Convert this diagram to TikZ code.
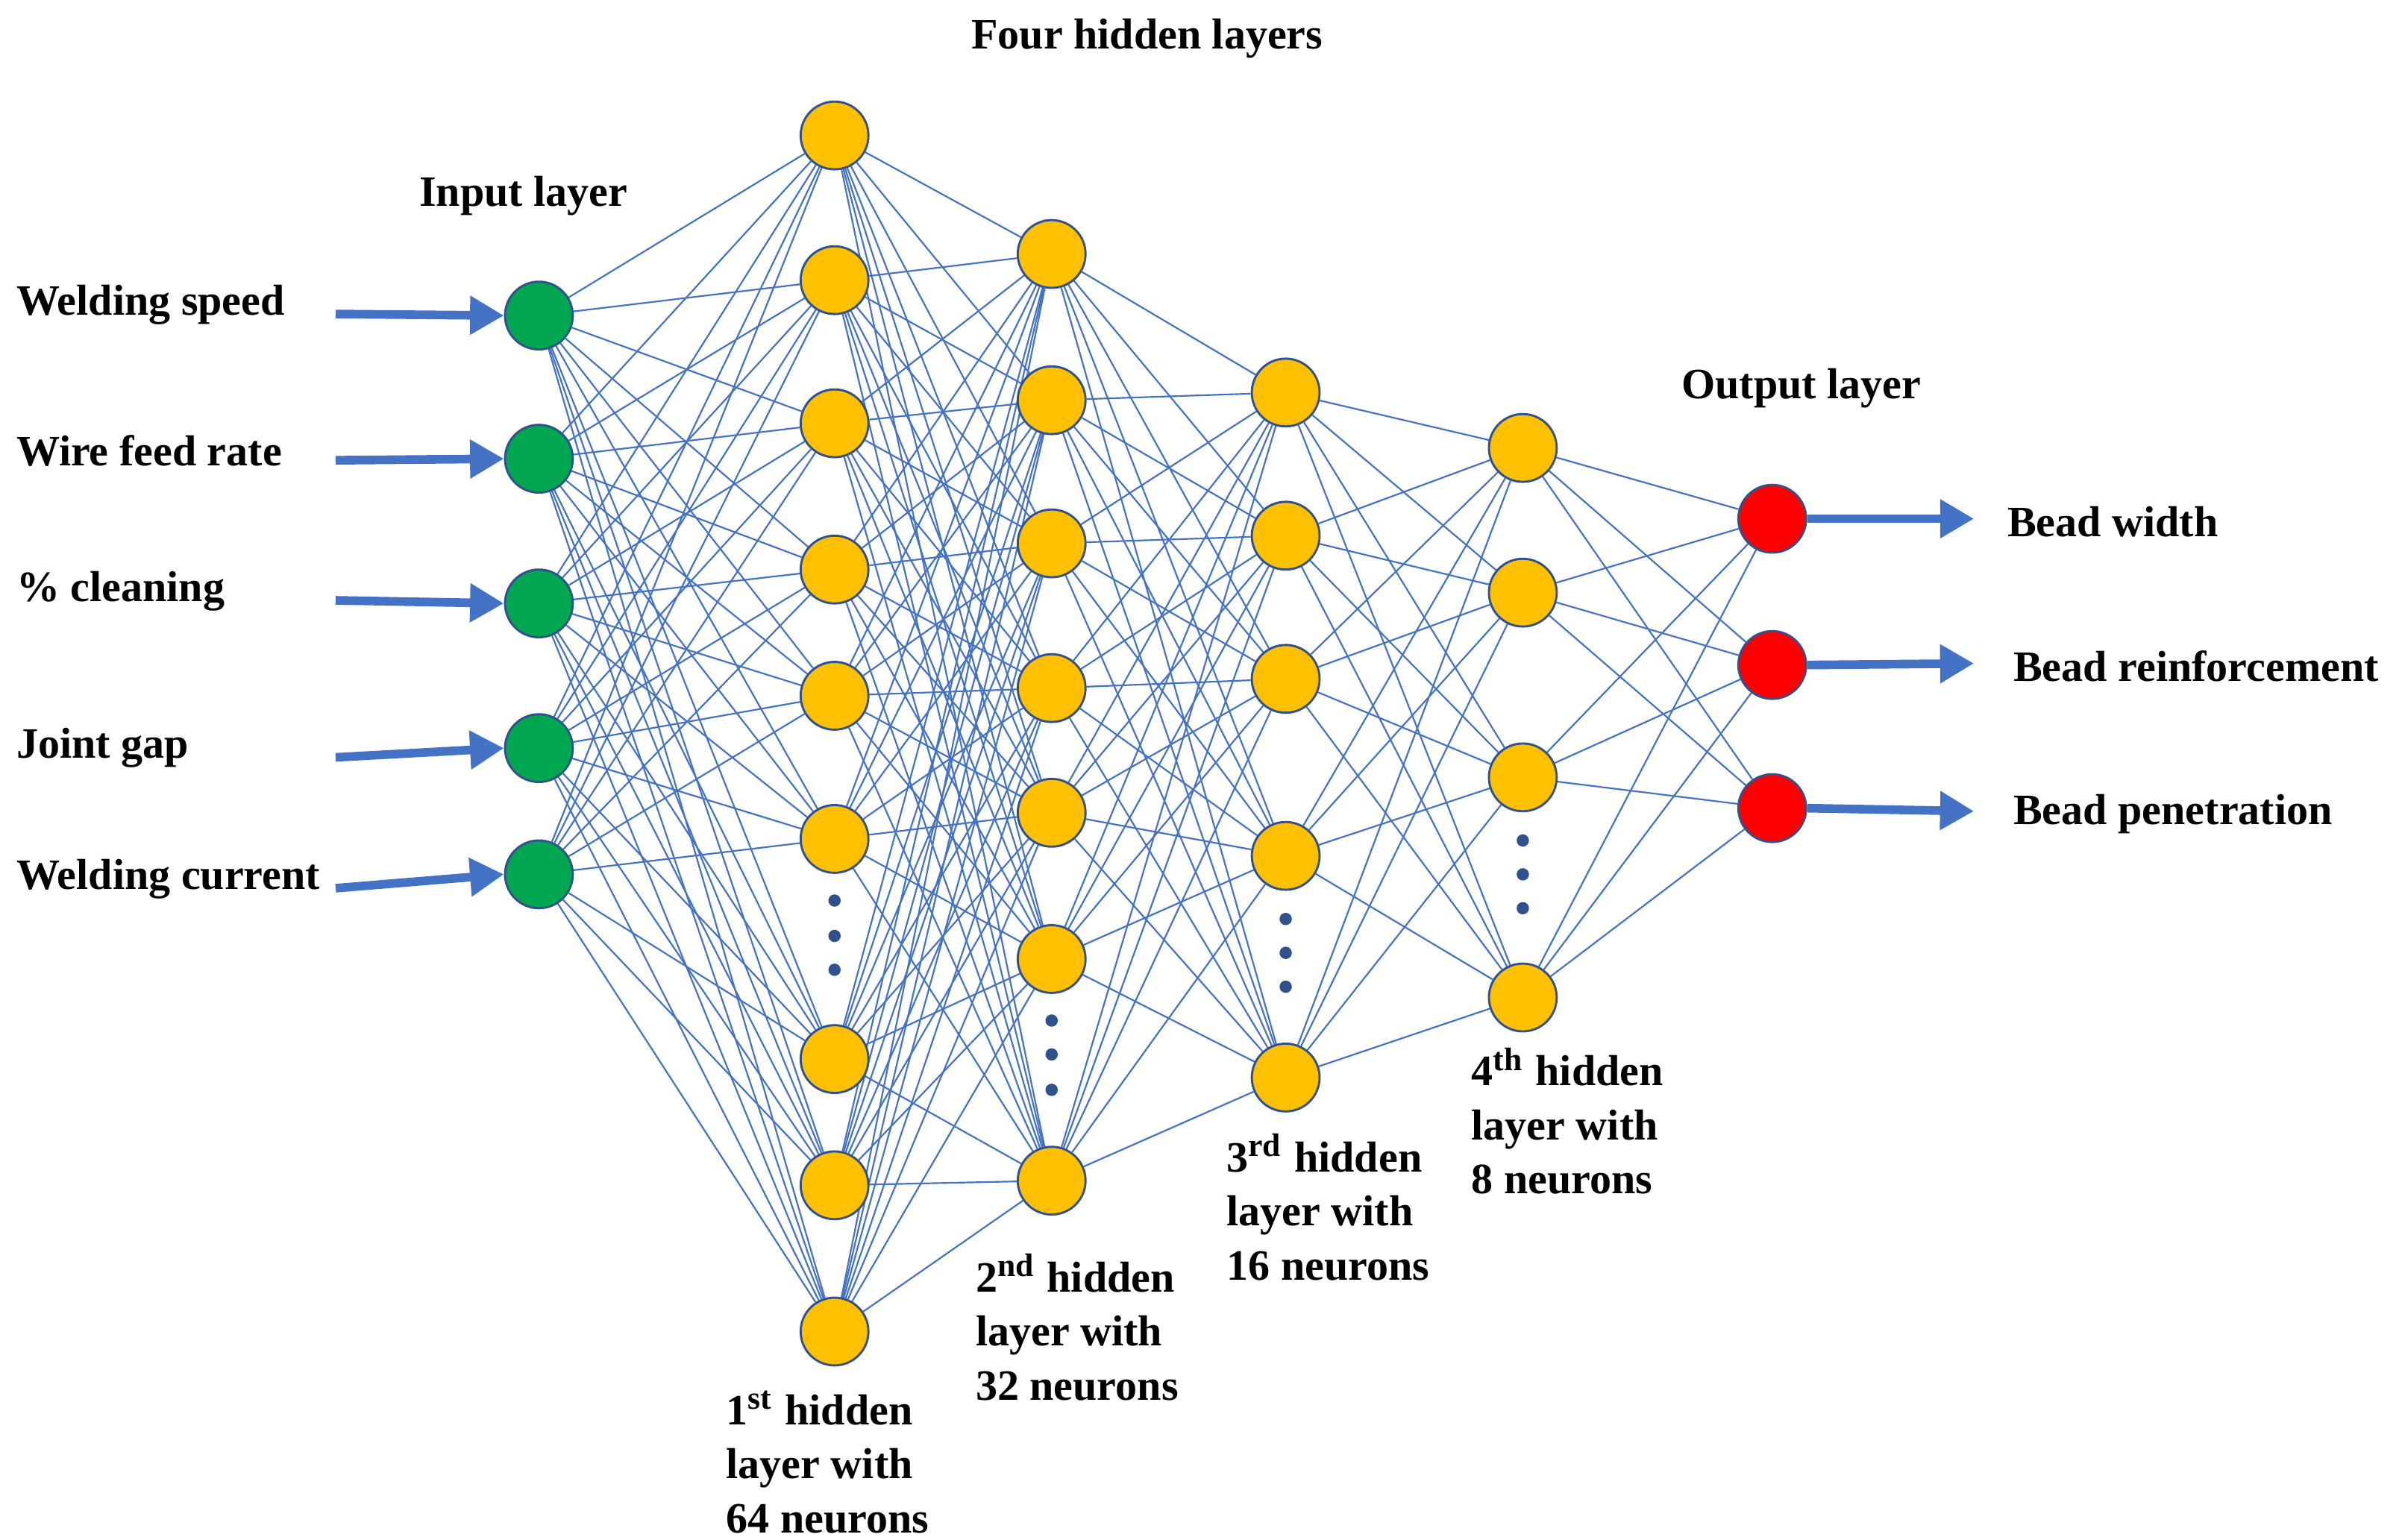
\documentclass[tikz,border=0pt]{standalone}
\usepackage{fontspec}
\setmainfont{Liberation Serif}
\usetikzlibrary{positioning,calc}
\usetikzlibrary{arrows.meta,backgrounds}

\definecolor{linkblue}{RGB}{68,114,196}
\definecolor{ringblue}{RGB}{47,82,143}
\definecolor{ingreen}{RGB}{0,166,80}
\definecolor{hidgold}{RGB}{255,192,0}

\tikzset{
  neuron/.style={circle, draw=ringblue, thin, minimum size=0.44cm, inner sep=0pt},
  link/.style={linkblue, line width=0.3pt},
  feed/.style={-{Triangle[length=2.2mm,width=2.4mm]}, linkblue, line width=1.6pt},
  lbl/.style={font=\fontsize{8}{10}\selectfont\bfseries, inner sep=0pt},
  layercap/.style={lbl, align=left, anchor=north west},
  vdot/.style={circle, fill=ringblue, minimum size=0.08cm, inner sep=0pt}
}

\begin{document}
\begin{tikzpicture}[x=0.01cm, y=-0.01cm]
  \useasboundingbox (0,0) rectangle (1560,1000);

  % input layer
  \foreach \y [count=\i] in {205,298,392,486,568}
    \node[neuron, fill=ingreen] (in_\i) at (350,\y) {};
  % hidden layers
  \foreach \y [count=\i] in {88,182,275,370,452,545,688,770,865}
    \node[neuron, fill=hidgold] (a_\i) at (542,\y) {};
  \foreach \y [count=\i] in {165,260,353,447,528,623,767}
    \node[neuron, fill=hidgold] (b_\i) at (683,\y) {};
  \foreach \y [count=\i] in {255,348,441,556,700}
    \node[neuron, fill=hidgold] (c_\i) at (835,\y) {};
  \foreach \y [count=\i] in {291,385,505,648}
    \node[neuron, fill=hidgold] (d_\i) at (989,\y) {};
  % output layer
  \foreach \y [count=\i] in {337,432,525}
    \node[neuron, fill=red] (out_\i) at (1151,\y) {};

  % links
  \begin{scope}[on background layer]
  \foreach \i in {1,...,5} \foreach \j in {1,...,9} \draw[link] (in_\i) -- (a_\j);
  \foreach \i in {1,...,9} \foreach \j in {1,...,7} \draw[link] (a_\i) -- (b_\j);
  \foreach \i in {1,...,7} \foreach \j in {1,...,5} \draw[link] (b_\i) -- (c_\j);
  \foreach \i in {1,...,5} \foreach \j in {1,...,4} \draw[link] (c_\i) -- (d_\j);
  \foreach \i in {1,...,4} \foreach \j in {1,...,3} \draw[link] (d_\i) -- (out_\j);
  \end{scope}

  % dots
  \foreach \y in {585,608,630} \node[vdot] at (542,\y) {};
  \foreach \y in {663,685,708} \node[vdot] at (683,\y) {};
  \foreach \y in {597,619,641} \node[vdot] at (835,\y) {};
  \foreach \y in {546,568,590} \node[vdot] at (989,\y) {};

  % inputs
  \foreach \y/\t [count=\i] in {198/Welding speed, 293/Wire feed rate, 384/\% cleaning, 486/Joint gap, 571/Welding current}
  {
    \node[lbl, anchor=west] (il_\i) at (10,\y) {\t};
    \coordinate (is_\i) at (218,\y+6);
    \draw[feed] (is_\i) -- (in_\i.west);
  }
  % outputs
  \foreach \y [count=\i] in {339,433,529}
  {
    \coordinate (oe_\i) at (1282,\y-2);
    \draw[feed] (out_\i.east) -- (oe_\i);
  }
  \node[lbl, anchor=west] (ol_1) at (1303,339) {Bead width};
  \node[lbl, anchor=west] (ol_2) at (1307,433) {Bead reinforcement};
  \node[lbl, anchor=west] (ol_3) at (1307,529) {Bead penetration};

  % titles
  \node[lbl] (t_hid) at (745,25) {Four hidden layers};
  \node[lbl] (t_in) at (340,127) {Input layer};
  \node[lbl] (t_out) at (1170,252) {Output layer};

  % captions
  \node[layercap] (cap_a) at (471,903) {1\textsuperscript{st} hidden\\layer with\\64 neurons};
  \node[layercap] (cap_b) at (633,814) {2\textsuperscript{nd} hidden\\layer with\\32 neurons};
  \node[layercap] (cap_c) at (796,736) {3\textsuperscript{rd} hidden\\layer with\\16 neurons};
  \node[layercap] (cap_d) at (955,680) {4\textsuperscript{th} hidden\\layer with\\8 neurons};
\end{tikzpicture}
\end{document}
